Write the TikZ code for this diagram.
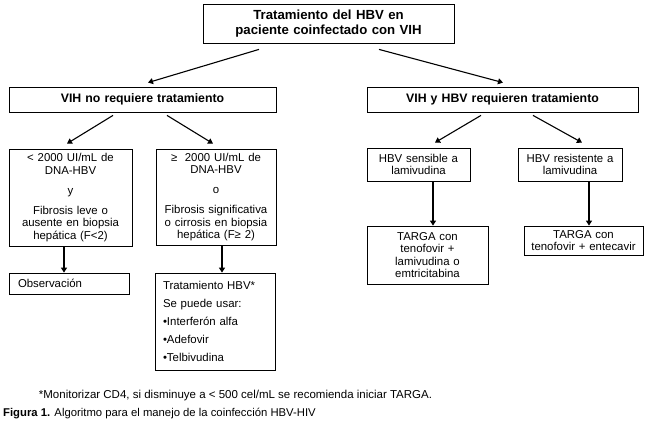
\documentclass[tikz,border=0pt]{standalone}
\usepackage{fontspec}
\setmainfont{Liberation Sans}
\usetikzlibrary{arrows.meta,calc}
\begin{document}
\begin{tikzpicture}[x=1pt,y=-1pt,
  box/.style={draw, line width=0.8pt, inner xsep=0pt, inner ysep=0pt, align=center},
  tbox/.style={box, font=\fontsize{12.3}{15}\selectfont\bfseries},
  nbox/.style={box, font=\fontsize{11.4}{12.5}\selectfont},
  arr/.style={line width=1.1pt, -{Triangle[width=6pt,length=5pt]}},
  varr/.style={line width=1.5pt, -{Triangle[width=6pt,length=5pt]}}]
\useasboundingbox (0,0) rectangle (650,425);

\node[tbox, text width=251pt, minimum height=39pt, font=\fontsize{13.2}{15}\selectfont\bfseries] (top) at (328.5,23.5)
  {Tratamiento del HBV en\\paciente coinfectado con VIH};
\node[tbox, text width=267pt, minimum height=25pt] (midL) at (142.5,99.5)
  {VIH no requiere tratamiento};
\node[tbox, text width=271pt, minimum height=25pt] (midR) at (502.5,99.5)
  {VIH y HBV requieren tratamiento};

\node[nbox, text width=123pt, minimum height=97pt] (A) at (70.5,197.5)
  {< 2000 UI/mL de\\DNA-HBV\\[7.5pt]y\\[7.5pt]Fibrosis leve o\\ausente en biopsia\\hepática (F<2)};
\node[nbox, text width=120pt, minimum height=96pt] (B) at (216,197)
  {≥~ 2000 UI/mL de\\DNA-HBV\\[7.5pt]o\\[7.5pt]Fibrosis significativa\\o cirrosis en biopsia\\hepática (F≥ 2)};

\node[nbox, align=left, text width=102pt, inner xsep=9pt, minimum height=21pt] (obs) at (69,283.5)
  {Observación};
\node[nbox, align=left, text width=104pt, inner xsep=8pt, minimum height=97pt,
  font=\fontsize{11.4}{18.2}\selectfont] (trat) at (215,321.5)
  {Tratamiento HBV*\\Se puede usar:\\•Interferón alfa\\•Adefovir\\•Telbivudina};

\node[nbox, text width=103pt, minimum height=33pt] (C) at (418.5,164.5)
  {HBV sensible a\\lamivudina};
\node[nbox, text width=104pt, minimum height=33pt] (D) at (570,164.5)
  {HBV resistente a\\lamivudina};
\node[nbox, text width=121pt, minimum height=58pt] (E) at (427.5,255)
  {TARGA con\\tenofovir +\\lamivudina o\\emtricitabina};
\node[nbox, text width=119pt, minimum height=29pt] (F) at (583.5,240.5)
  {TARGA con\\tenofovir + entecavir};

% connectors
\draw[arr] ([xshift=-69.5pt,yshift=-6pt]top.south) -- ([xshift=5.5pt,yshift=4pt]midL.north);
\draw[arr] ([xshift=50.5pt,yshift=-6pt]top.south) -- ([xshift=0.5pt,yshift=4pt]midR.north);
\draw[arr] ([xshift=-29.5pt,yshift=-3pt]midL.south) -- ([xshift=-3.5pt,yshift=5pt]A.north);
\draw[arr] ([xshift=24.5pt,yshift=-3pt]midL.south) -- ([xshift=-3pt,yshift=5pt]B.north);
\draw[arr] ([xshift=-21.5pt,yshift=-3pt]midR.south) -- ([xshift=16.5pt,yshift=5pt]C.north);
\draw[arr] ([xshift=30.5pt,yshift=-3pt]midR.south) -- ([xshift=12pt,yshift=5pt]D.north);

\draw[varr] ([xshift=-6.5pt]A.south) -- ([xshift=-6.5pt]A.south |- obs.north);
\draw[varr] ([xshift=6pt]B.south) -- ([xshift=6pt]B.south |- trat.north);
\draw[varr] ([xshift=14.5pt]C.south) -- ([xshift=14.5pt]C.south |- E.north);
\draw[varr] ([xshift=19pt]D.south) -- ([xshift=19pt]D.south |- F.north);

\node[font=\fontsize{11.5}{13}\selectfont, anchor=base] (note) at (235.5,398)
  {*Monitorizar CD4, si disminuye a < 500 cel/mL se recomienda iniciar TARGA.};
\node[font=\fontsize{11.3}{13}\selectfont, anchor=base west, inner xsep=0pt] (cap) at (3,416)
  {\textbf{Figura 1.} Algoritmo para el manejo de la coinfección HBV-HIV};
\end{tikzpicture}
\end{document}
